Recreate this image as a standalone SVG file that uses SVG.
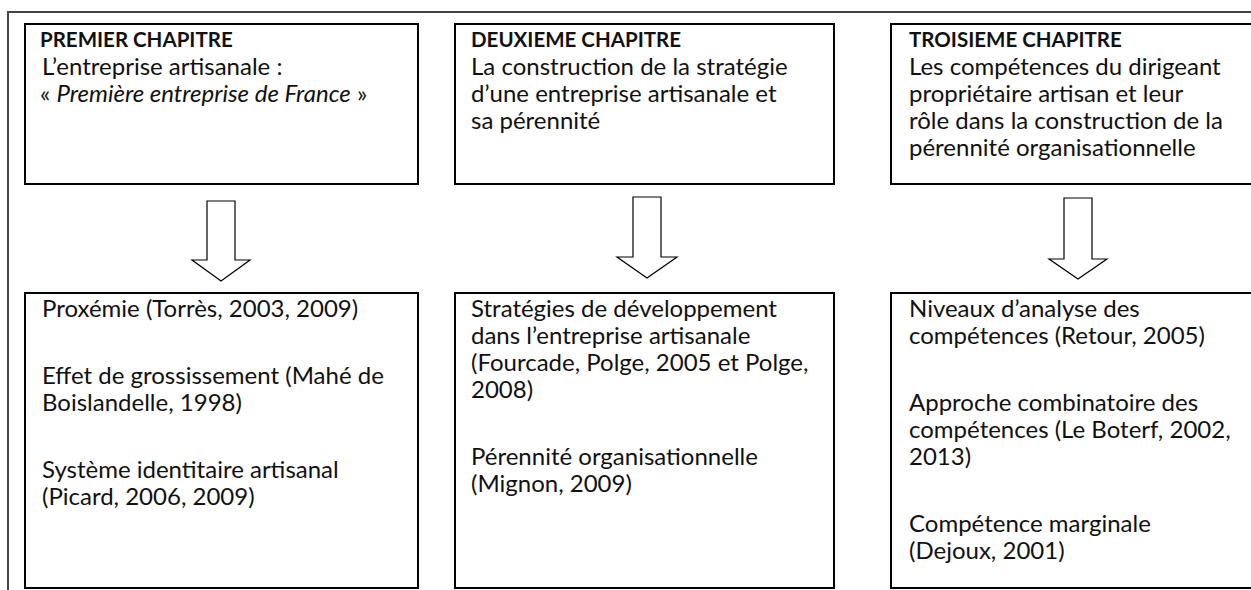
<svg xmlns="http://www.w3.org/2000/svg" width="1251" height="590" viewBox="0 0 1251 590">
<style>
.frame{fill:none;stroke:#444;stroke-width:2}
.box{fill:#fff;stroke:#000;stroke-width:2}
.arrow{fill:#fff;stroke:#000;stroke-width:1.2;stroke-linejoin:miter}
text{font-family:Lato,"Liberation Sans",sans-serif;font-size:24px;fill:#111}
.h{font-weight:bold;font-size:20.5px}
</style>
<rect width="1251" height="590" fill="#fff"/>
<path class="frame" d="M8,590 V12 H1251"/>
<g id="chap1">
<rect class="box" x="25" y="24" width="393" height="160"/>
<text x="40" y="47" class="h">PREMIER CHAPITRE</text>
<text x="42" y="74.5">L’entreprise artisanale :</text>
<text x="40" y="102">« <tspan font-style="italic">Première entreprise de France</tspan> »</text>
</g>
<g id="chap2">
<rect class="box" x="455" y="24" width="379" height="160"/>
<text x="471" y="47" class="h">DEUXIEME CHAPITRE</text>
<text x="471" y="74.5">La construction de la stratégie</text>
<text x="471" y="102">d’une entreprise artisanale et</text>
<text x="471" y="129">sa pérennité</text>
</g>
<g id="chap3">
<rect class="box" x="891" y="24" width="380" height="160"/>
<text x="909" y="47" class="h">TROISIEME CHAPITRE</text>
<text x="909" y="74.5">Les compétences du dirigeant</text>
<text x="909" y="102">propriétaire artisan et leur</text>
<text x="909" y="129">rôle dans la construction de la</text>
<text x="909" y="156">pérennité organisationnelle</text>
</g>
<g id="connectors">
<path class="arrow" d="M207,201 H235 V260 H250 L221,281 L192,260 H207 Z"/>
<path class="arrow" d="M633,197 H661 V257 H677 L647,278 L617,257 H633 Z"/>
<path class="arrow" d="M1064,198 H1092 V259 H1107 L1078,279 L1049,259 H1064 Z"/>
</g>
<g id="lit1">
<rect class="box" x="25" y="293" width="393" height="295"/>
<text x="42" y="317">Proxémie (Torrès, 2003, 2009)</text>
<text x="42" y="384">Effet de grossissement (Mahé de</text>
<text x="42" y="411">Boislandelle, 1998)</text>
<text x="42" y="478">Système identitaire artisanal</text>
<text x="42" y="505">(Picard, 2006, 2009)</text>
</g>
<g id="lit2">
<rect class="box" x="455" y="293" width="379" height="295"/>
<text x="471" y="317">Stratégies de développement</text>
<text x="471" y="344">dans l’entreprise artisanale</text>
<text x="471" y="371">(Fourcade, Polge, 2005 et Polge,</text>
<text x="471" y="398">2008)</text>
<text x="471" y="465">Pérennité organisationnelle</text>
<text x="471" y="492">(Mignon, 2009)</text>
</g>
<g id="lit3">
<rect class="box" x="891" y="293" width="380" height="295"/>
<text x="909" y="317">Niveaux d’analyse des</text>
<text x="909" y="344">compétences (Retour, 2005)</text>
<text x="909" y="411">Approche combinatoire des</text>
<text x="909" y="438">compétences (Le Boterf, 2002,</text>
<text x="909" y="465">2013)</text>
<text x="909" y="532">Compétence marginale</text>
<text x="909" y="559">(Dejoux, 2001)</text>
</g>
</svg>
